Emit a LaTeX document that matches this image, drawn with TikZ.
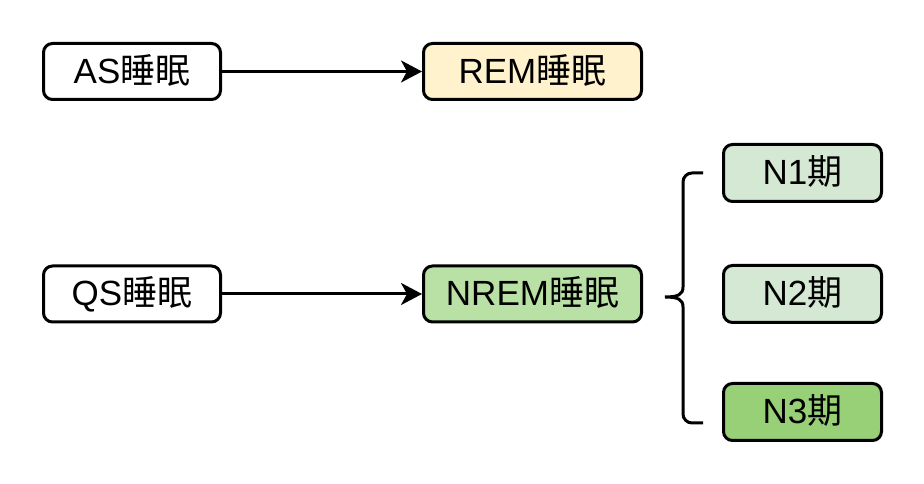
\documentclass[tikz,border=0pt]{standalone}
\usepackage{fontspec}
\setmainfont{Liberation Sans}
\newfontfamily\cjk{Noto Sans CJK SC}
\usetikzlibrary{arrows.meta}
\definecolor{remfill}{HTML}{FFF2CC}
\definecolor{nremfill}{HTML}{B9E0A5}
\definecolor{nlight}{HTML}{D5E8D4}
\definecolor{ndark}{HTML}{97D077}
\tikzset{
  box/.style={draw=black, line width=3pt, rounded corners=9pt, align=center,
    font=\fontsize{35}{38}\selectfont, inner sep=0pt, text height=25pt, text depth=1pt},
  wide/.style={box, minimum width=218pt, minimum height=56pt},
  narrow/.style={box, minimum width=177pt, minimum height=56pt},
  small/.style={box, minimum width=158pt, minimum height=57pt},
  conn/.style={line width=3pt, -{Stealth[length=21pt, width=22pt, inset=6pt]}},
}
\begin{document}
\begin{tikzpicture}[x=1pt, y=1pt]
\useasboundingbox (0,0) rectangle (924,484);
\node[narrow, fill=white] (as) at (132,412.5) {AS{\cjk 睡眠}};
\node[wide, fill=remfill] (rem) at (532.5,412.5) {REM{\cjk 睡眠}};
\node[narrow, fill=white] (qs) at (132,190) {QS{\cjk 睡眠}};
\node[wide, fill=nremfill] (nrem) at (532.5,190) {NREM{\cjk 睡眠}};
\node[small, fill=nlight] (n1) at (802.5,311) {N1{\cjk 期}};
\node[small, fill=nlight] (n2) at (802.5,190) {N2{\cjk 期}};
\node[small, fill=ndark] (n3) at (802.5,72) {N3{\cjk 期}};
\draw[conn] (as.east) -- (rem.west);
\draw[conn] (qs.east) -- (nrem.west);
\coordinate (btop) at (703,311);
\coordinate (bbot) at (703,61);
\coordinate (btip) at (665,187);
\draw[line width=3pt, line join=round]
  (btop) -- (692,311) arc[start angle=90, end angle=180, radius=9]
  -- (683,197) .. controls (683,190) and (679,187) .. (btip)
  (btip) .. controls (679,187) and (683,184) .. (683,177)
  -- (683,70) arc[start angle=180, end angle=270, radius=9] -- (bbot);
\end{tikzpicture}
\end{document}
